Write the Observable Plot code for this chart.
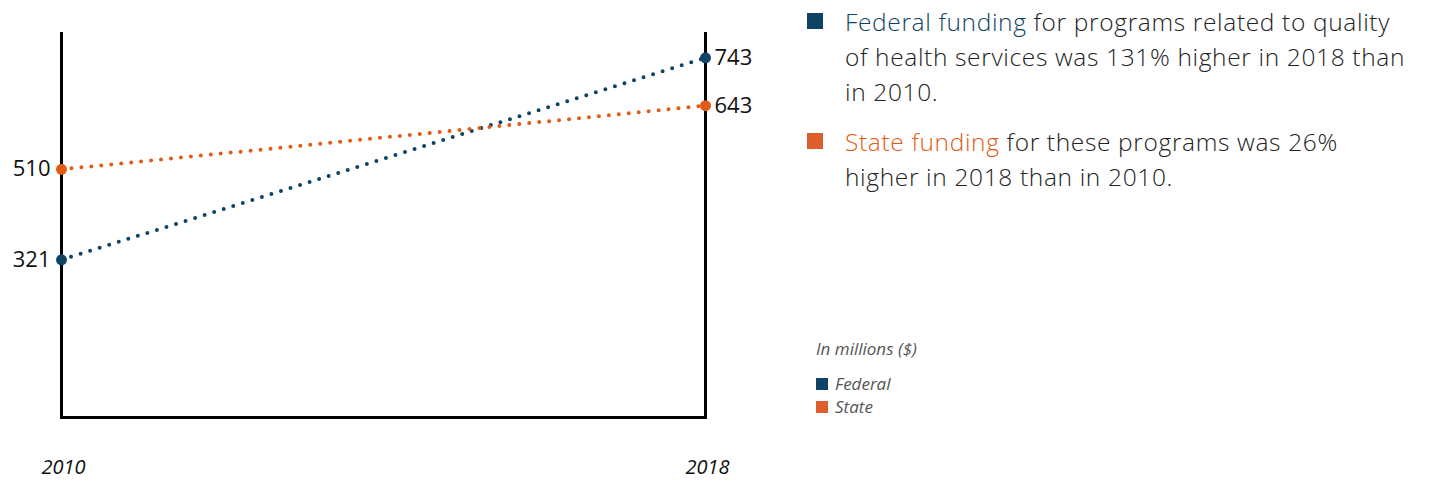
<!DOCTYPE html>
<html>
<head>
<meta charset="utf-8">
<script src="https://cdn.jsdelivr.net/npm/d3@7"></script>
<script src="https://cdn.jsdelivr.net/npm/@observablehq/plot@0.6"></script>
<style>
  html, body { margin: 0; padding: 0; background: #fff; }
  body { width: 1442px; height: 481px; position: relative; overflow: hidden; font-family: "Open Sans", sans-serif; }
  #chart { position: absolute; left: 0; top: 0; }
  #notes { position: absolute; left: 807px; top: 4px; color: #222; font-size: 24.5px; line-height: 35px; font-weight: 300; letter-spacing: 0.65px; }
  .note { position: relative; padding-left: 38px; white-space: nowrap; margin-bottom: 15px; }
  .sq { position: absolute; left: 0; top: 9px; width: 16px; height: 16px; }
  #legend { position: absolute; left: 816px; top: 337px; font-style: italic; color: #555; font-size: 17px; }
  #legend .t { margin-bottom: 12px; }
  #legend .row { display: flex; align-items: center; line-height: 23px; }
  #legend .row span.s { display: inline-block; width: 12px; height: 12px; margin-right: 7px; }
</style>
</head>
<body>
<div id="chart"></div>
<div id="notes"></div>
<div id="legend"></div>
<script>
const years = [2010, 2018];
const seriesNames = ["Federal", "State"];
const federalValues = [321, 743];
const stateValues = [510, 643];
const colors = {Federal: "#0d4466", State: "#e35a12"};
const legendColors = {Federal: "#0d4466", State: "#dc5e2a"};
const unitLabel = "In millions ($)";

const data = [];
years.forEach((yr, i) => {
  data.push({year: yr, series: "Federal", value: federalValues[i]});
  data.push({year: yr, series: "State", value: stateValues[i]});
});

const chart = Plot.plot({
  width: 780,
  height: 481,
  marginLeft: 61,
  marginRight: 75,
  marginTop: 32,
  marginBottom: 64,
  x: {domain: [2010, 2018]},
  y: {domain: [0, 800], range: [413, 30]},
  style: {fontFamily: "Open Sans, sans-serif", color: "#111", background: "#fff"},
  marks: [
    Plot.ruleX(years, {stroke: "#000", strokeWidth: 3}),
    Plot.frame({anchor: "bottom", stroke: "#000", strokeWidth: 3}),
    Plot.line(data, {x: "year", y: "value", z: "series", stroke: d => colors[d.series], strokeWidth: 4, strokeDasharray: "0,10", strokeLinecap: "round"}),
    Plot.dot(data, {x: "year", y: "value", fill: d => colors[d.series], r: 5.5}),
    Plot.text(data.filter(d => d.year === 2010), {x: "year", y: "value", text: d => String(d.value), textAnchor: "end", dx: -11, fontSize: 22, fill: "#111"}),
    Plot.text(data.filter(d => d.year === 2018), {x: "year", y: "value", text: d => String(d.value), textAnchor: "start", dx: 9, fontSize: 22, fill: "#111"}),
    Plot.axisX({ticks: years, tickFormat: "d", tickSize: 0, tickPadding: 42, fontSize: 20, fontStyle: "italic", fill: "#111", label: null, dx: 2}),
    Plot.axisY({ticks: [], label: null, tickSize: 0})
  ]
});
document.getElementById("chart").appendChild(chart);

const notes = document.getElementById("notes");
notes.innerHTML = `
<div class="note"><span class="sq" style="background:${legendColors.Federal}"></span><span style="color:${colors.Federal}">Federal funding</span> for programs related to quality<br>of health services was 131% higher in 2018 than<br>in 2010.</div>
<div class="note"><span class="sq" style="background:${legendColors.State}"></span><span style="color:${colors.State}">State funding</span> for these programs was 26%<br>higher in 2018 than in 2010.</div>`;

const legend = document.getElementById("legend");
legend.innerHTML = `<div class="t">${unitLabel}</div>` +
  seriesNames.map(s => `<div class="row"><span class="s" style="background:${legendColors[s]}"></span>${s}</div>`).join("");
</script>
</body>
</html>
